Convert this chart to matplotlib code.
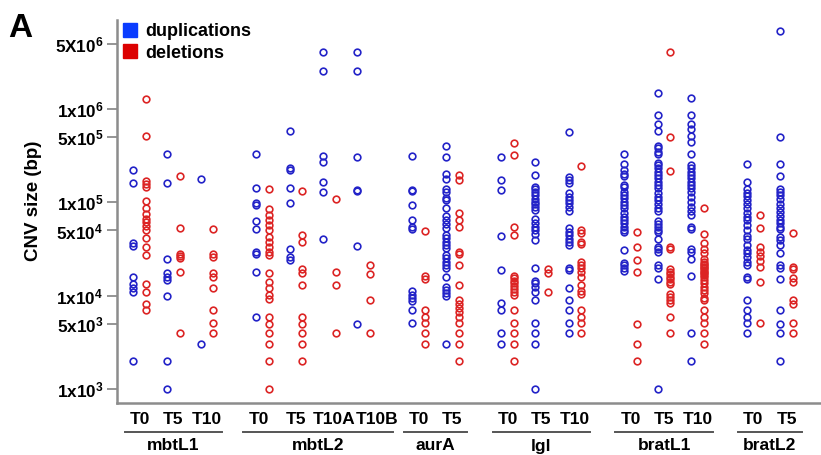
import matplotlib
matplotlib.use("Agg")
import matplotlib.pyplot as plt
from matplotlib.lines import Line2D
from matplotlib.transforms import blended_transform_factory

plt.rcParams['font.family'] = ['Liberation Sans', 'DejaVu Sans']
plt.rcParams['mathtext.fontset'] = 'custom'
plt.rcParams['mathtext.rm'] = 'Liberation Sans:bold'
plt.rcParams['mathtext.bf'] = 'Liberation Sans:bold'
plt.rcParams['mathtext.it'] = 'Liberation Sans:bold'

# ---------------- data ----------------
groups = ['mbtL1', 'mbtL2', 'aurA', 'lgl', 'bratL1', 'bratL2']
samples = [['T0', 'T5', 'T10'],
           ['T0', 'T5', 'T10A', 'T10B'],
           ['T0', 'T5'],
           ['T0', 'T5', 'T10'],
           ['T0', 'T5', 'T10'],
           ['T0', 'T5']]

ytick_values = [5e6, 1e6, 5e5, 1e5, 5e4, 1e4, 5e3, 1e3]
ytick_labels = [r'$5X10^6$', r'$1x10^6$', r'$5x10^5$', r'$1x10^5$',
                r'$5x10^4$', r'$1x10^4$', r'$5x10^3$', r'$1x10^3$']

mbtL1_dup = [
    [2.2e5, 1.6e5, 3.7e4, 3.4e4, 1.6e4, 1.32e4, 1.22e4, 1.1e4, 2.0e3],
    [3.3e5, 1.62e5, 2.5e4, 1.74e4, 1.6e4, 1.48e4, 1.0e4, 2.0e3, 1.0e3],
    [1.77e5, 3.0e3],
]
mbtL1_del = [
    [1.27e6, 5.2e5, 1.69e5, 1.57e5, 1.46e5, 1.03e5, 8.7e4, 7.5e4, 6.6e4, 6.2e4,
     5.6e4, 5.1e4, 4.15e4, 3.3e4, 2.7e4, 1.33e4, 1.09e4, 8.1e3, 7.0e3],
    [1.93e5, 5.3e4, 2.8e4, 2.66e4, 2.53e4, 1.8e4, 4.0e3],
    [5.2e4, 2.77e4, 2.6e4, 1.74e4, 1.6e4, 1.2e4, 7.0e3, 5.06e3, 4.0e3],
]
mbtL2_dup = [
    [3.3e5, 1.41e5, 9.8e4, 9.4e4, 6.3e4, 5.2e4, 2.97e4, 2.83e4, 1.81e4, 5.95e3],
    [5.8e5, 2.36e5, 2.25e5, 1.41e5, 9.9e4, 3.2e4, 2.6e4, 2.4e4],
    [4.1e6, 2.55e6, 3.16e5, 2.72e5, 1.66e5, 1.3e5, 4.1e4],
    [4.1e6, 2.55e6, 3.1e5, 1.36e5, 1.33e5, 3.4e4, 5.0e3],
]
mbtL2_del = [
    [1.38e5, 8.4e4, 7.3e4, 6.5e4, 5.7e4, 5.05e4, 4.25e4, 3.76e4, 3.3e4, 2.94e4,
     2.73e4, 1.75e4, 1.4e4, 1.21e4, 1.02e4, 9.2e3, 5.9e3, 5.0e3, 4.0e3, 3.0e3,
     2.0e3, 1.0e3],
    [1.32e5, 4.47e4, 3.79e4, 1.92e4, 1.74e4, 1.3e4, 5.95e3, 5.0e3, 4.0e3, 3.0e3,
     2.0e3],
    [1.09e5, 1.8e4, 1.3e4, 4.0e3],
    [2.13e4, 1.71e4, 9.0e3, 4.0e3],
]
aurA_dup = [
    [3.16e5, 1.36e5, 1.31e5, 9.4e4, 6.4e4, 5.4e4, 5.15e4, 1.12e4, 1.02e4, 9.4e3,
     8.8e3, 7.0e3, 5.06e3],
    [4.0e5, 3.1e5, 2.0e5, 1.78e5, 1.39e5, 1.29e5, 1.11e5, 1.06e5, 8.7e4, 7.1e4,
     6.5e4, 5.9e4, 5.3e4, 4.5e4, 4.15e4, 3.76e4, 3.5e4, 3.24e4, 2.73e4, 2.53e4,
     2.3e4, 2.13e4, 1.98e4, 1.58e4, 1.24e4, 1.15e4, 1.07e4, 9.9e3, 3.0e3],
]
aurA_del = [
    [4.93e4, 1.62e4, 1.5e4, 7.0e3, 5.95e3, 5.06e3, 4.0e3, 3.0e3],
    [1.96e5, 1.73e5, 7.6e4, 6.4e4, 5.4e4, 2.97e4, 2.83e4, 2.13e4, 1.3e4, 9.0e3,
     8.1e3, 7.4e3, 6.7e3, 5.95e3, 5.06e3, 4.0e3, 3.0e3, 2.0e3],
]
lgl_dup = [
    [3.1e5, 1.73e5, 1.36e5, 4.4e4, 1.88e4, 8.3e3, 7.0e3, 4.0e3, 3.0e3],
    [2.68e5, 1.98e5, 1.47e5, 1.38e5, 1.3e5, 1.2e5, 1.1e5, 1.02e5, 9.6e4, 9.0e4,
     8.3e4, 6.6e4, 6.05e4, 5.5e4, 5.05e4, 4.6e4, 3.95e4, 2.0e4, 1.45e4, 1.36e4,
     1.25e4, 1.1e4, 9.0e3, 5.06e3, 4.0e3, 3.0e3, 1.0e3],
    [5.7e5, 1.88e5, 1.73e5, 1.6e5, 1.25e5, 1.15e5, 1.06e5, 9.8e4, 9.0e4, 8.1e4,
     5.3e4, 4.85e4, 4.47e4, 4.1e4, 3.79e4, 3.5e4, 1.96e4, 1.87e4, 1.2e4, 9.0e3,
     7.0e3, 5.06e3, 4.0e3],
]
lgl_del = [
    [4.3e5, 3.2e5, 5.4e4, 4.47e4, 1.63e4, 1.54e4, 1.44e4, 1.36e4, 1.27e4, 1.18e4,
     1.1e4, 1.02e4, 7.0e3, 5.06e3, 4.0e3, 3.0e3, 2.0e3],
    [1.92e4, 1.76e4, 1.1e4],
    [2.47e5, 5.05e4, 4.66e4, 3.79e4, 3.58e4, 2.31e4, 2.13e4, 1.96e4, 1.8e4, 1.6e4,
     1.3e4, 1.13e4, 1.04e4, 7.0e3, 5.95e3, 5.06e3, 4.0e3],
]
bratL1_dup = [
    [3.3e5, 2.58e5, 2.22e5, 2.01e5, 1.91e5, 1.53e5, 1.46e5, 1.29e5, 1.2e5, 1.11e5,
     1.01e5, 9.4e4, 8.7e4, 7.7e4, 7.0e4, 6.5e4, 6.0e4, 5.4e4, 5.05e4, 4.8e4,
     3.1e4, 2.24e4, 2.13e4, 1.98e4, 1.84e4],
    [1.5e6, 8.6e5, 6.9e5, 5.8e5, 4.0e5, 3.8e5, 3.5e5, 3.3e5, 2.66e5, 2.51e5,
     2.32e5, 2.13e5, 1.96e5, 1.81e5, 1.66e5, 1.53e5, 1.41e5, 1.27e5, 1.15e5,
     1.06e5, 9.6e4, 8.8e4, 8.1e4, 6.3e4, 5.9e4, 5.4e4, 5.05e4, 4.8e4, 4.1e4,
     3.35e4, 3.14e4, 2.96e4, 2.13e4, 1.96e4, 1.5e4, 1.0e3],
    [1.31e6, 8.6e5, 6.9e5, 6.1e5, 5.1e5, 4.47e5, 3.3e5, 2.51e5, 2.32e5, 2.13e5,
     1.96e5, 1.81e5, 1.66e5, 1.53e5, 1.41e5, 1.3e5, 1.15e5, 1.02e5, 9.0e4, 8.1e4,
     7.3e4, 5.5e4, 5.15e4, 3.2e4, 2.96e4, 2.5e4, 1.63e4, 4.0e3, 2.0e3],
]
bratL1_del = [
    [4.77e4, 3.35e4, 2.41e4, 1.8e4, 5.0e3, 3.0e3, 2.0e3],
    [4.1e6, 5.0e5, 2.18e5, 3.35e4, 3.2e4, 1.92e4, 1.8e4, 1.71e4, 1.6e4, 1.5e4,
     1.41e4, 1.33e4, 1.04e4, 9.7e3, 9.0e3, 8.3e3, 5.95e3, 4.0e3],
    [8.8e4, 4.6e4, 3.64e4, 3.2e4, 2.85e4, 2.5e4, 2.3e4, 2.21e4, 2.13e4, 2.05e4,
     1.98e4, 1.88e4, 1.8e4, 1.73e4, 1.66e4, 1.58e4, 1.47e4, 1.37e4, 1.24e4,
     1.15e4, 1.07e4, 9.4e3, 9.0e3, 7.0e3, 5.95e3, 5.06e3, 4.0e3, 3.0e3],
]
bratL2_dup = [
    [2.58e5, 1.66e5, 1.38e5, 1.27e5, 1.17e5, 1.06e5, 9.6e4, 8.6e4, 7.6e4, 7.0e4,
     6.4e4, 5.7e4, 5.05e4, 4.36e4, 4.1e4, 3.5e4, 3.1e4, 2.85e4, 2.6e4, 2.31e4,
     2.13e4, 1.6e4, 1.5e4, 9.0e3, 7.0e3, 5.95e3, 5.06e3, 4.0e3],
    [6.9e6, 5.0e5, 2.56e5, 1.91e5, 1.38e5, 1.3e5, 1.2e5, 1.08e5, 9.6e4, 8.6e4,
     7.9e4, 7.1e4, 6.5e4, 5.96e4, 5.5e4, 5.2e4, 4.28e4, 3.95e4, 3.5e4, 2.89e4,
     2.13e4, 1.96e4, 1.5e4, 7.0e3, 5.0e3, 4.0e3, 2.0e3],
]
bratL2_del = [
    [7.4e4, 5.3e4, 3.3e4, 2.96e4, 2.66e4, 2.37e4, 2.01e4, 1.41e4, 5.06e3],
    [4.66e4, 2.04e4, 1.92e4, 1.54e4, 1.41e4, 9.1e3, 8.1e3, 5.06e3, 4.0e3],
]

dup_sets = [mbtL1_dup, mbtL2_dup, aurA_dup, lgl_dup, bratL1_dup, bratL2_dup]
del_sets = [mbtL1_del, mbtL2_del, aurA_del, lgl_del, bratL1_del, bratL2_del]

# ---------------- layout / style ----------------
W, H = 821, 455
GAP = 0.65          # extra space between groups (in sample units)
OFF = 0.19          # half distance between blue and red column
label_nudge = {('mbtL2', 'T10A'): 0.12, ('mbtL2', 'T10B'): 0.42,
               ('mbtL2', 'T0'): -0.12}
BLUE = '#2323c8'
RED = '#dc2424'
LEG_BLUE = '#0a3cff'
LEG_RED = '#dc0000'
SPINE = '#8c8c8c'

fig = plt.figure(figsize=(W / 100, H / 100), dpi=100)
ax = fig.add_axes([117 / W, 52 / H, 704 / W, 383 / H])

pos = 0.0
centers = []
for g, smp in zip(groups, samples):
    c = []
    for s in smp:
        c.append(pos)
        pos += 1
    centers.append(c)
    pos += GAP

mk = dict(marker='o', ms=4.8, mew=1.2, mfc='none', ls='none')
for gi, g in enumerate(groups):
    for si, x in enumerate(centers[gi]):
        d = dup_sets[gi][si]
        r = del_sets[gi][si]
        ax.plot([x - OFF] * len(d), d, mec=BLUE, **mk)
        ax.plot([x + OFF] * len(r), r, mec=RED, **mk)

ax.set_yscale('log')
ax.set_ylim(708, 9.0e6)
ax.set_xlim(-0.68, 20.27)
ax.set_yticks(ytick_values)
ax.set_yticklabels(ytick_labels, fontsize=12.3)
ax.yaxis.set_minor_locator(matplotlib.ticker.NullLocator())
ax.tick_params(axis='y', length=7, width=1.3, color=SPINE, pad=3)
ax.set_xticks([])
for side in ['top', 'right']:
    ax.spines[side].set_visible(False)
for side in ['left', 'bottom']:
    ax.spines[side].set_color(SPINE)
    ax.spines[side].set_linewidth(1.8)

ax.set_ylabel('CNV size (bp)', fontsize=13.5, fontweight='bold')
ax.yaxis.set_label_coords(-0.107, 0.527)

tr = blended_transform_factory(ax.transData, ax.transAxes)
y_t = -16 / 383
y_line = -29 / 383
y_g = -43 / 383
for gi, g in enumerate(groups):
    lx = []
    for si, s in enumerate(samples[gi]):
        x = centers[gi][si] + label_nudge.get((g, s), 0.0)
        lx.append(x)
        ax.text(x, y_t, s, transform=tr, ha='center', va='center',
                fontsize=12.5, fontweight='bold', clip_on=False)
    ax.add_line(Line2D([lx[0] - 0.45, lx[-1] + 0.45], [y_line, y_line],
                       transform=tr, color='#555555', lw=1.4, clip_on=False))
    ax.text((lx[0] + lx[-1]) / 2, y_g, g, transform=tr, ha='center',
            va='center', fontsize=12.5, fontweight='bold', clip_on=False)

handles = [Line2D([], [], marker='s', ls='none', ms=10.5, mfc=LEG_BLUE, mec=LEG_BLUE),
           Line2D([], [], marker='s', ls='none', ms=10.5, mfc=LEG_RED, mec=LEG_RED)]
leg = ax.legend(handles, ['duplications', 'deletions'], loc='upper left',
                bbox_to_anchor=(6 / 704, 1 - 3 / 383), frameon=False, borderpad=0,
                borderaxespad=0, handlelength=0.8, handletextpad=0.45,
                labelspacing=0.25, prop=dict(size=13, weight='bold'))

fig.text(8 / W, 1 - 37 / H, 'A', fontsize=24, fontweight='bold', va='baseline')

fig.savefig('out.png', dpi=100)
